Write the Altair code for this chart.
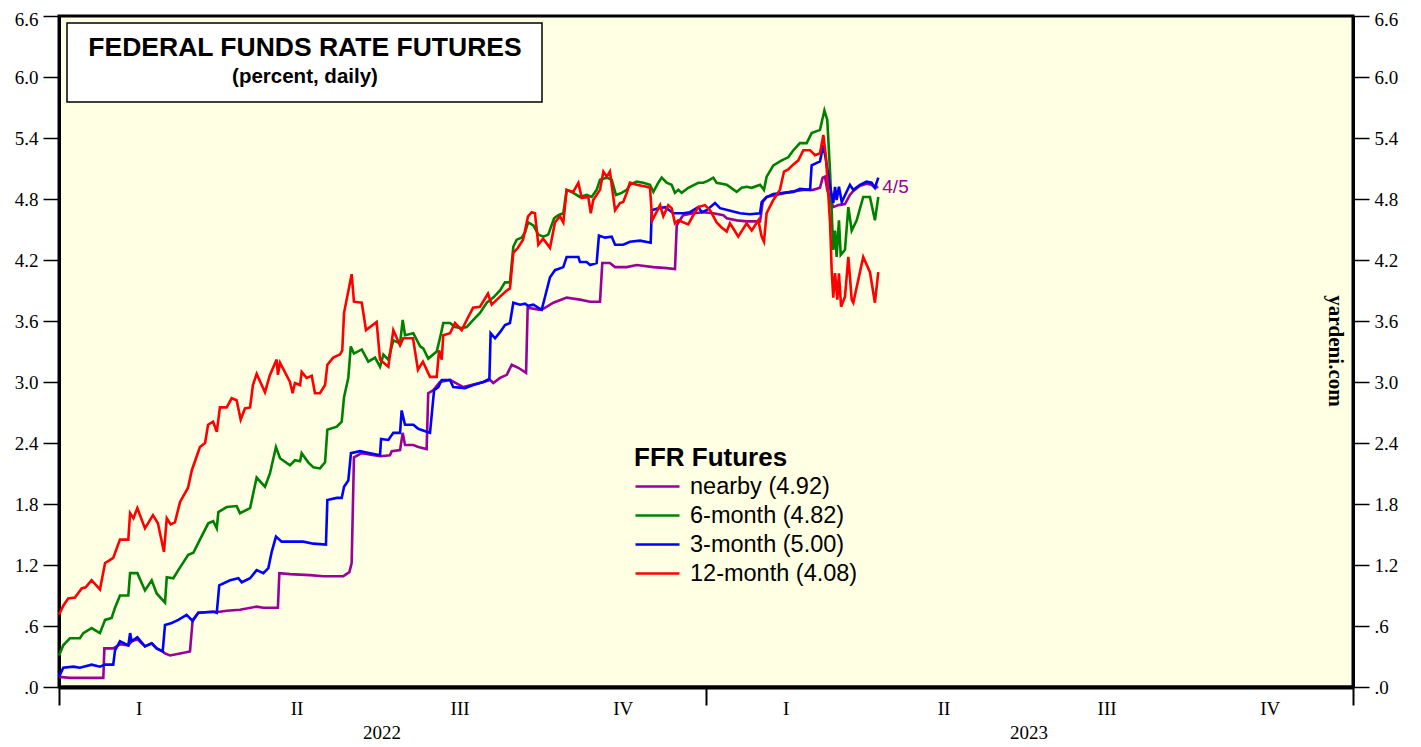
import altair as alt
import pandas as pd

# ---------------- data (day offsets from 2022-01-01, values in percent) ----------------
BASE = pd.Timestamp("2022-01-01")

nearby_days = [0, 6.2, 11.8, 25.0, 25.6, 30.6, 34.4, 39.1, 41.0, 44.2, 48.5, 52.3, 55.1, 58.5, 59.8, 62.6,
               68.3, 73.9, 75.4, 78.6, 87.0, 90.8, 94.6, 102.1, 111.5, 115.3, 123.5, 124.3, 130.3, 141.6,
               149.1, 160.4, 163.8, 165.1, 166.4, 170.8, 181.1, 186.7, 187.7, 192.4, 193.9, 195.2, 199.9,
               202.7, 207.4, 208.3, 211.2, 214.9, 220.6, 228.1, 239.4, 243.2, 245.0, 248.8, 252.6, 255.4,
               259.1, 263.5, 264.4, 271.4, 273.2, 278.9, 286.4, 293.9, 299.6, 305.2, 306.5, 310.8, 313.7,
               320.3, 325.9, 335.3, 342.8, 347.5, 348.5, 351.3, 352.2, 357.8, 363.5, 369.1, 374.8, 376.7,
               382.3, 387.9, 395.5, 397.0, 399.2, 412.4, 419.9, 425.5, 429.3, 430.8, 432.1, 433.4, 436.8,
               439.6, 443.4, 446.2, 448.1, 451.9, 455.6, 458.4, 460.3, 462.2]
nearby_vals = [0.10, 0.09, 0.09, 0.09, 0.38, 0.38, 0.42, 0.41, 0.45, 0.47, 0.40, 0.43, 0.38, 0.35, 0.33, 0.31,
               0.33, 0.35, 0.66, 0.73, 0.74, 0.74, 0.75, 0.76, 0.79, 0.78, 0.78, 1.12, 1.11, 1.10,
               1.09, 1.09, 1.13, 1.22, 2.26, 2.30, 2.27, 2.28, 2.32, 2.33, 2.50, 2.38, 2.38,
               2.36, 2.34, 2.89, 2.92, 3.00, 3.02, 2.95, 3.00, 3.02, 2.99, 3.04, 3.07, 3.17,
               3.14, 3.09, 3.73, 3.71, 3.72, 3.78, 3.83, 3.81, 3.79, 3.79, 4.17, 4.17, 4.13,
               4.13, 4.15, 4.13, 4.12, 4.11, 4.54, 4.62, 4.64, 4.66, 4.67, 4.66, 4.64, 4.61,
               4.59, 4.58, 4.58, 4.77, 4.82, 4.87, 4.89, 4.89, 4.91, 5.01, 5.02, 4.89, 4.72,
               4.74, 4.75, 4.84, 4.88, 4.93, 4.95, 4.94, 4.91, 4.92]

m6_days = [0, 2.4, 6.2, 11.8, 13.7, 18.4, 23.1, 26.0, 29.7, 31.6, 34.4, 39.1, 40.1, 44.2, 48.5, 52.3, 55.1,
           59.8, 60.8, 64.5, 67.3, 72.9, 75.8, 79.5, 84.2, 87.0, 89.0, 89.9, 94.6, 100.2, 102.1, 107.8,
           111.5, 116.2, 119.0, 122.4, 124.7, 130.3, 133.1, 136.0, 136.9, 140.6, 143.5, 147.2, 150.1,
           151.4, 156.7, 159.5, 160.8, 163.2, 164.6, 166.4, 170.8, 174.5, 178.3, 181.1, 183.0, 185.8,
           188.6, 192.4, 193.9, 195.2, 199.9, 203.7, 205.5, 208.3, 213.1, 214.9, 216.8, 220.6, 223.4,
           227.2, 230.0, 233.7, 237.5, 241.3, 245.0, 248.8, 251.6, 254.4, 256.3, 258.2, 261.0, 262.9,
           264.7, 267.6, 270.4, 273.2, 276.0, 279.3, 281.7, 284.5, 286.4, 290.1, 293.9, 297.7, 300.5,
           303.3, 305.2, 309.0, 311.8, 314.2, 317.4, 320.3, 322.1, 325.9, 329.6, 333.4, 335.3, 338.1,
           340.0, 342.8, 345.6, 347.5, 349.4, 351.3, 355.0, 360.7, 363.5, 366.3, 369.1, 371.0, 376.7,
           382.3, 385.1, 387.9, 390.8, 395.5, 397.7, 399.2, 403.0, 407.7, 411.4, 414.3, 418.0, 421.8,
           424.6, 429.3, 431.8, 433.4, 435.0, 436.8, 437.8, 438.7, 440.0, 441.0, 443.4, 445.3, 447.2,
           450.0, 453.7, 457.5, 460.3, 462.2]
m6_vals = [0.31, 0.41, 0.48, 0.48, 0.53, 0.58, 0.53, 0.66, 0.68, 0.78, 0.90, 0.90, 1.12, 1.12, 0.95, 1.05, 0.92,
           0.83, 1.08, 1.07, 1.15, 1.30, 1.32, 1.45, 1.61, 1.63, 1.56, 1.72, 1.77, 1.78, 1.71, 1.76,
           2.06, 1.97, 2.10, 2.36, 2.25, 2.18, 2.23, 2.22, 2.30, 2.21, 2.16, 2.15, 2.21,
           2.53, 2.56, 2.61, 2.85, 3.04, 3.35, 3.28, 3.32, 3.20, 3.24, 3.15, 3.27, 3.22,
           3.41, 3.38, 3.61, 3.46, 3.48, 3.35, 3.33, 3.23, 3.30, 3.43, 3.58, 3.58, 3.54,
           3.53, 3.54, 3.61, 3.68, 3.78, 3.83, 3.90, 3.98, 3.98, 4.33, 4.40, 4.42, 4.47,
           4.57, 4.54, 4.45, 4.43, 4.45, 4.61, 4.64, 4.66, 4.89, 4.86, 4.82, 4.84, 4.82,
           4.89, 4.99, 5.01, 4.99, 4.84, 4.86, 4.89, 4.94, 4.97, 4.96, 4.94, 4.87, 4.96,
           5.01, 4.96, 4.94, 4.86, 4.89, 4.86, 4.91, 4.96, 4.96, 4.98, 5.01, 4.96, 4.94,
           4.87, 4.91, 4.92, 4.91, 4.94, 4.89, 5.02, 5.13, 5.18, 5.21, 5.28, 5.35, 5.35,
           5.45, 5.48, 5.67, 5.58, 5.06, 4.30, 4.49, 4.23, 4.59, 4.25, 4.30, 4.72, 4.49,
           4.59, 4.82, 4.82, 4.59, 4.82]

m3_days = [0, 2.4, 8.1, 11.8, 18.4, 23.1, 26.0, 30.6, 31.6, 34.4, 39.1, 40.1, 41.0, 44.2, 48.5, 52.3, 55.1,
           58.5, 59.8, 63.6, 67.3, 72.0, 75.4, 78.6, 87.0, 89.0, 90.4, 96.5, 101.2, 103.1, 107.8, 111.5,
           115.3, 118.1, 120.0, 122.4, 125.6, 130.3, 137.8, 143.5, 150.6, 151.4, 156.7, 159.5, 160.8,
           163.2, 164.7, 169.8, 175.5, 181.1, 181.7, 185.8, 188.6, 192.4, 193.3, 195.2, 199.9, 202.7,
           207.4, 209.3, 211.6, 214.0, 215.9, 220.6, 222.4, 229.0, 233.7, 239.4, 242.8, 243.5, 246.0,
           248.8, 251.6, 254.4, 256.3, 260.1, 262.9, 264.7, 267.6, 272.3, 275.1, 277.0, 279.8, 284.5,
           286.4, 293.0, 293.9, 297.7, 299.6, 303.3, 304.6, 308.0, 311.8, 313.7, 318.3, 322.1, 327.8,
           333.8, 334.4, 338.1, 341.9, 346.6, 352.2, 356.0, 360.7, 362.6, 365.4, 370.1, 372.9, 377.6,
           384.2, 389.8, 395.5, 396.4, 399.2, 403.0, 408.6, 414.3, 418.0, 423.7, 424.6, 429.3, 431.2,
           432.7, 435.0, 436.8, 437.8, 438.7, 440.0, 441.6, 446.2, 448.1, 451.9, 455.6, 458.4, 460.3,
           462.2]
m3_vals = [0.10, 0.19, 0.20, 0.19, 0.22, 0.20, 0.22, 0.22, 0.36, 0.45, 0.41, 0.53, 0.45, 0.49, 0.40, 0.43, 0.38,
           0.35, 0.61, 0.63, 0.66, 0.71, 0.65, 0.73, 0.74, 0.73, 1.00, 1.05, 1.07, 1.03, 1.07, 1.15,
           1.12, 1.17, 1.33, 1.48, 1.43, 1.43, 1.43, 1.41, 1.40, 1.84, 1.86, 1.86, 1.97,
           2.03, 2.30, 2.32, 2.30, 2.28, 2.44, 2.43, 2.50, 2.50, 2.72, 2.58, 2.58, 2.54,
           2.51, 2.50, 2.92, 2.95, 3.02, 3.02, 2.95, 2.94, 2.97, 3.00, 3.03, 3.48, 3.43,
           3.49, 3.56, 3.58, 3.78, 3.76, 3.77, 3.75, 3.76, 3.71, 3.90, 4.03, 4.10, 4.13,
           4.23, 4.23, 4.18, 4.18, 4.15, 4.17, 4.44, 4.42, 4.43, 4.35, 4.35, 4.38, 4.39,
           4.37, 4.69, 4.71, 4.72, 4.66, 4.66, 4.67, 4.72, 4.67, 4.69, 4.76, 4.71, 4.69,
           4.66, 4.65, 4.66, 4.77, 4.82, 4.85, 4.86, 4.87, 4.90, 4.89, 5.13, 5.17, 5.33,
           5.18, 4.92, 4.76, 4.92, 4.79, 4.92, 4.77, 4.94, 4.89, 4.94, 4.97, 4.96, 4.91,
           5.01]

m12_days = [0, 2.4, 5.2, 9.0, 12.8, 15.0, 18.4, 21.0, 23.1, 26.0, 28.0, 30.6, 34.4, 39.1, 40.1, 42.0, 44.2,
            48.5, 53.0, 55.8, 59.2, 60.8, 63.0, 65.4, 68.3, 72.8, 74.9, 79.5, 82.4, 84.1, 86.9, 89.0,
            90.8, 94.6, 97.4, 100.2, 102.5, 104.9, 107.8, 109.4, 111.5, 116.2, 119.0, 122.8, 123.5,
            124.7, 130.3, 131.8, 133.1, 136.0, 136.9, 139.7, 142.6, 144.4, 147.2, 150.1, 151.4, 154.7,
            158.5, 159.8, 160.8, 165.1, 166.4, 170.8, 173.2, 179.2, 181.1, 185.8, 188.6, 192.4, 194.2,
            199.7, 202.5, 205.3, 209.3, 213.1, 214.4, 215.9, 216.8, 220.6, 223.4, 227.2, 230.0, 233.6,
            237.5, 242.0, 244.1, 248.8, 252.6, 254.4, 256.3, 258.9, 261.8, 264.6, 266.7, 268.5, 270.4,
            273.1, 277.0, 279.8, 282.6, 284.5, 286.4, 290.1, 293.0, 294.9, 298.6, 300.0, 301.4, 305.2,
            307.1, 309.0, 310.8, 313.7, 316.5, 318.3, 320.3, 322.1, 325.9, 331.5, 333.4, 334.7, 339.1,
            340.9, 343.7, 345.6, 347.5, 349.4, 355.0, 357.8, 360.7, 364.4, 367.3, 371.0, 373.8, 376.7,
            378.5, 380.4, 383.2, 387.9, 390.8, 394.5, 396.4, 397.7, 399.2, 403.0, 406.7, 409.0, 411.4,
            414.3, 417.1, 419.9, 423.7, 426.5, 429.3, 431.2, 432.7, 435.0, 435.9, 436.8, 437.8, 439.1,
            440.0, 441.2, 443.4, 445.3, 447.2, 448.1, 453.7, 457.5, 460.3, 462.2]
m12_vals = [0.71, 0.80, 0.87, 0.88, 0.97, 0.98, 1.05, 1.00, 0.96, 1.22, 1.24, 1.27, 1.45, 1.45, 1.71, 1.66, 1.76,
            1.56, 1.69, 1.61, 1.33, 1.66, 1.60, 1.62, 1.82, 1.96, 2.13, 2.36, 2.40, 2.58, 2.61, 2.51,
            2.75, 2.75, 2.84, 2.82, 2.63, 2.74, 2.75, 2.97, 3.08, 2.90, 3.07, 3.22, 3.07,
            3.19, 3.00, 2.89, 2.99, 2.97, 3.10, 3.04, 3.06, 2.89, 2.89, 2.97, 3.17, 3.24,
            3.27, 3.31, 3.68, 4.06, 3.79, 3.78, 3.51, 3.59, 3.22, 3.15, 3.51, 3.36, 3.43,
            3.43, 3.12, 3.20, 3.05, 3.05, 3.31, 3.22, 3.46, 3.48, 3.58, 3.51, 3.61, 3.73,
            3.74, 3.87, 3.76, 3.84, 3.90, 3.92, 4.27, 4.32, 4.40, 4.63, 4.67, 4.66, 4.35,
            4.41, 4.32, 4.57, 4.63, 4.57, 4.89, 4.87, 4.96, 4.81, 4.82, 4.66, 4.79, 4.89,
            5.07, 5.02, 5.07, 4.69, 4.76, 4.77, 4.86, 4.96, 4.94, 4.92, 4.91, 4.59, 4.74,
            4.63, 4.74, 4.71, 4.56, 4.59, 4.55, 4.64, 4.72, 4.74, 4.69, 4.57, 4.52, 4.48,
            4.56, 4.51, 4.43, 4.56, 4.49, 4.59, 4.43, 4.38, 4.66, 4.79, 4.89, 5.07, 5.09,
            5.14, 5.18, 5.28, 5.28, 5.23, 5.25, 5.43, 5.21, 4.56, 4.10, 3.83, 4.07, 3.81,
            4.07, 3.74, 3.84, 4.23, 3.81, 3.78, 4.23, 4.08, 3.78, 4.08]

series_names = ["nearby (4.92)", "6-month (4.82)", "3-month (5.00)", "12-month (4.08)"]
series_colors = ["#990099", "#008000", "#0000FF", "#FF0000"]

y_ticks = [0.0, 0.6, 1.2, 1.8, 2.4, 3.0, 3.6, 4.2, 4.8, 5.4, 6.0, 6.6]
last_label = "4/5"
last_day = 462.2
last_value = 4.92


def frame(name, days, vals):
    return pd.DataFrame({
        "date": [BASE + pd.Timedelta(days=d) for d in days],
        "value": vals,
        "series": name,
    })


df = pd.concat([
    frame(series_names[0], nearby_days, nearby_vals),
    frame(series_names[1], m6_days, m6_vals),
    frame(series_names[2], m3_days, m3_vals),
    frame(series_names[3], m12_days, m12_vals),
], ignore_index=True)

SERIF = "Liberation Serif"
SANS = "Liberation Sans"

dt = alt.DateTime
x_domain = [dt(year=2022, month=1, date=1), dt(year=2024, month=1, date=1)]
x_values = [
    dt(year=2022, month=1, date=1), dt(year=2023, month=1, date=1), dt(year=2024, month=1, date=1),
    dt(year=2022, month=2, date=15), dt(year=2022, month=5, date=15), dt(year=2022, month=8, date=15),
    dt(year=2022, month=11, date=15),
    dt(year=2023, month=2, date=15), dt(year=2023, month=5, date=15), dt(year=2023, month=8, date=15),
    dt(year=2023, month=11, date=15),
    dt(year=2022, month=7, date=2), dt(year=2023, month=7, date=2),
]

x_label_expr = (
    "month(datum.value) == 0 ? '' : "
    "month(datum.value) == 6 ? timeFormat(datum.value, '%Y') : "
    "month(datum.value) == 1 ? 'I' : month(datum.value) == 4 ? 'II' : "
    "month(datum.value) == 7 ? 'III' : 'IV'"
)

x_axis = alt.Axis(
    values=x_values,
    labelExpr=x_label_expr,
    title=None,
    grid=False,
    domainColor="black",
    domainWidth=4,
    tickColor="black",
    tickWidth=2,
    tickSize={"condition": {"test": "month(datum.value) == 0", "value": 18}, "value": 0},
    labelPadding={"condition": {"test": "month(datum.value) == 6", "value": 36}, "value": 12},
    labelFont=SERIF,
    labelFontSize=19,
    labelColor="black",
    labelOverlap=False,
    labelFlush=False,
)

x_enc = alt.X("date:T", scale=alt.Scale(domain=x_domain), axis=x_axis)

y_label_expr = "datum.value < 1 ? substring(format(datum.value, '.1f'), 1) : format(datum.value, '.1f')"


def y_axis(orient):
    return alt.Axis(
        orient=orient,
        values=y_ticks,
        labelExpr=y_label_expr,
        title=None,
        grid=False,
        domainColor="black",
        domainWidth=3,
        tickColor="black",
        tickWidth=1.5,
        tickSize=16,
        labelPadding=5,
        labelOffset={"condition": {"test": "datum.value > 6.5", "value": 3}, "value": 0},
        labelFont=SERIF,
        labelFontSize=19,
        labelColor="black",
        labelFlush=False,
        labelOverlap=False,
    )


y_scale = alt.Scale(domain=[0, 6.6], nice=False, zero=True)

lines = alt.Chart(df).mark_line(strokeWidth=2.6).encode(
    x=x_enc,
    y=alt.Y("value:Q", scale=y_scale, axis=y_axis("left")),
    color=alt.Color(
        "series:N",
        scale=alt.Scale(domain=series_names, range=series_colors),
        sort=series_names,
        legend=alt.Legend(
            orient="none",
            legendX=575,
            legendY=429,
            title="FFR Futures",
            titleFont=SANS,
            titleFontSize=26,
            titleFontWeight="bold",
            titleColor="black",
            titlePadding=3,
            labelFont=SANS,
            labelFontSize=23.5,
            labelColor="black",
            labelLimit=400,
            symbolType="M-2,0H2",
            symbolSize=484,
            symbolStrokeWidth=2.6,
            symbolOffset=11,
            labelOffset=20,
            rowPadding=5,
            padding=0,
        ),
    ),
)

end_df = pd.DataFrame({
    "date": [BASE + pd.Timedelta(days=last_day)],
    "value": [last_value],
    "label": [last_label],
})

end_text = alt.Chart(end_df).mark_text(
    align="left", baseline="middle", dx=4, font=SANS, fontSize=19, color="#990099"
).encode(
    x=x_enc,
    y=alt.Y("value:Q", scale=y_scale, axis=y_axis("right")),
    text="label:N",
)

title_df = pd.DataFrame({"line1": ["FEDERAL FUNDS RATE FUTURES"], "line2": ["(percent, daily)"]})

title_box = alt.Chart(title_df).mark_rect(
    fill="white", stroke="black", strokeWidth=1.5
).encode(
    x=alt.value(8), x2=alt.value(483), y=alt.value(7), y2=alt.value(86)
)

title_l1 = alt.Chart(title_df).mark_text(
    font=SANS, fontSize=26.5, fontWeight="bold", color="black", align="center", baseline="middle"
).encode(x=alt.value(246), y=alt.value(32), text="line1:N")

title_l2 = alt.Chart(title_df).mark_text(
    font=SANS, fontSize=20.5, fontWeight="bold", color="black", align="center", baseline="middle"
).encode(x=alt.value(246), y=alt.value(61), text="line2:N")

src_df = pd.DataFrame({"src": ["yardeni.com"]})
source = alt.Chart(src_df).mark_text(
    font=SERIF, fontSize=21, fontWeight="bold", color="black", angle=90,
    align="center", baseline="middle"
).encode(x=alt.value(1276), y=alt.value(335), text="src:N")

chart = alt.layer(
    lines, end_text, title_box, title_l1, title_l2, source
).resolve_axis(
    y="independent"
).properties(
    width=1294,
    height=671,
    autosize=alt.AutoSizeParams(type="none"),
    padding={"left": 51, "top": 8, "right": 60, "bottom": 60},
    background="white",
).configure_view(
    fill="#FFFFE3",
    stroke="black",
    strokeWidth=3,
)

chart.save("out.html", embed_options={"renderer": "svg", "actions": False})
